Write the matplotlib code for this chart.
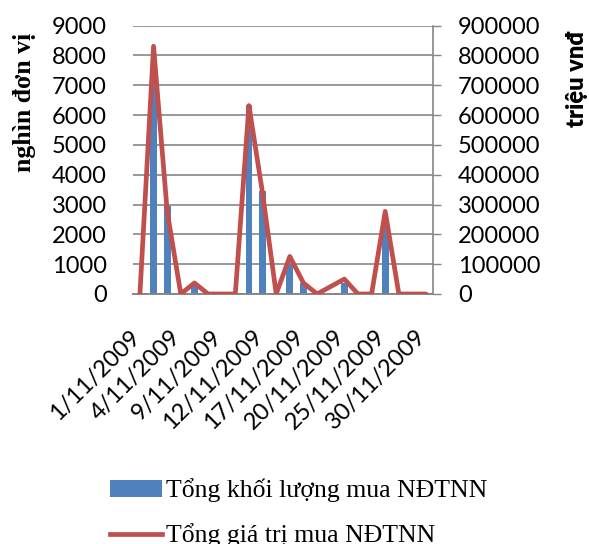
import matplotlib
matplotlib.use('Agg')
import matplotlib.pyplot as plt
import matplotlib.transforms as mtransforms
from matplotlib.patches import Patch
from matplotlib.lines import Line2D

dates = ['1/11/2009', '2/11/2009', '3/11/2009', '4/11/2009', '5/11/2009',
         '6/11/2009', '9/11/2009', '10/11/2009', '11/11/2009', '12/11/2009',
         '13/11/2009', '16/11/2009', '17/11/2009', '18/11/2009', '19/11/2009',
         '20/11/2009', '23/11/2009', '24/11/2009', '25/11/2009', '26/11/2009',
         '27/11/2009', '30/11/2009']
volume = [0, 7300, 2950, 0, 260, 0, 0, 0, 6350, 3470, 0, 1000, 370, 0, 0,
          370, 0, 0, 2270, 0, 0, 0]
value = [0, 831000, 277000, 0, 37000, 0, 0, 0, 632000, 338000, 0, 126000,
         37000, 0, 25000, 50000, 0, 0, 277000, 0, 0, 0]
left_ticks = [0, 1000, 2000, 3000, 4000, 5000, 6000, 7000, 8000, 9000]
right_ticks = [0, 100000, 200000, 300000, 400000, 500000, 600000, 700000,
               800000, 900000]

blue = '#4F81BD'
red = '#C0504D'
grid_gray = '#868686'
sans = ['Lato', 'DejaVu Sans']
serif = ['Liberation Serif', 'DejaVu Serif']

fig = plt.figure(figsize=(5.89, 5.44), dpi=100)
ax = fig.add_axes([0.226, 0.4596, 0.509, 0.4932])
ax2 = ax.twinx()

x = list(range(len(dates)))
ax.bar(x, volume, width=0.5, color=blue, zorder=2)
ax2.plot(x, value, color=red, linewidth=3.4, solid_joinstyle='round',
         solid_capstyle='round', zorder=3)

ax.set_xlim(-0.5, len(dates) - 0.5)
ax.set_ylim(0, 9000)
ax2.set_ylim(0, 900000)
ax.set_yticks(left_ticks)
ax.set_yticklabels([str(v) for v in left_ticks], family=sans, fontsize=17)
ax2.set_yticks(right_ticks)
ax2.set_yticklabels([str(v) for v in right_ticks], family=sans, fontsize=17)

ax.yaxis.grid(True, color=grid_gray, linewidth=1.2, zorder=0)
ax.set_axisbelow(True)
ax.tick_params(axis='y', length=0, pad=19)
ax2.tick_params(axis='y', length=6, width=1.0, color=grid_gray, pad=12)

ax.set_xticks(x[::3])
ax.set_xticklabels(dates[::3], rotation=45, ha='right', family=sans,
                   fontsize=17)
ax.tick_params(axis='x', length=0, pad=23)
offset = mtransforms.ScaledTranslation(4 / 100, 0, fig.dpi_scale_trans)
for lbl in ax.get_xticklabels():
    lbl.set_transform(lbl.get_transform() + offset)

for a in (ax, ax2):
    a.spines['top'].set_visible(False)
    a.spines['left'].set_visible(False)
    a.spines['right'].set_visible(False)
    a.spines['bottom'].set_color(grid_gray)
    a.spines['bottom'].set_linewidth(1.2)
ax2.spines['right'].set_visible(True)
ax2.spines['right'].set_color(grid_gray)
ax2.spines['right'].set_linewidth(1.2)
ax.patch.set_alpha(0)

fig.text(25 / 589, 1 - 33 / 544, 'nghìn đơn vị', rotation=90, ha='center',
         va='top', family=serif, fontweight='bold', fontsize=18.5)
fig.text(577 / 589, 1 - 31 / 544, 'triệu vnđ', rotation=90, ha='center',
         va='top', family=sans, fontweight='heavy', fontsize=17)

handles = [Patch(facecolor=blue, edgecolor='none'),
           Line2D([0], [0], color=red, linewidth=3.4)]
labels = ['Tổng khối lượng mua NĐTNN', 'Tổng giá trị mua NĐTNN']
fig.legend(handles, labels, loc='upper left',
           bbox_to_anchor=(100 / 589, 1 - 468 / 544),
           prop={'family': serif, 'size': 18.5}, frameon=False,
           handlelength=2.0, handleheight=0.65, handletextpad=0.15,
           labelspacing=0.82, borderaxespad=0)

fig.savefig('out.png', dpi=100)
